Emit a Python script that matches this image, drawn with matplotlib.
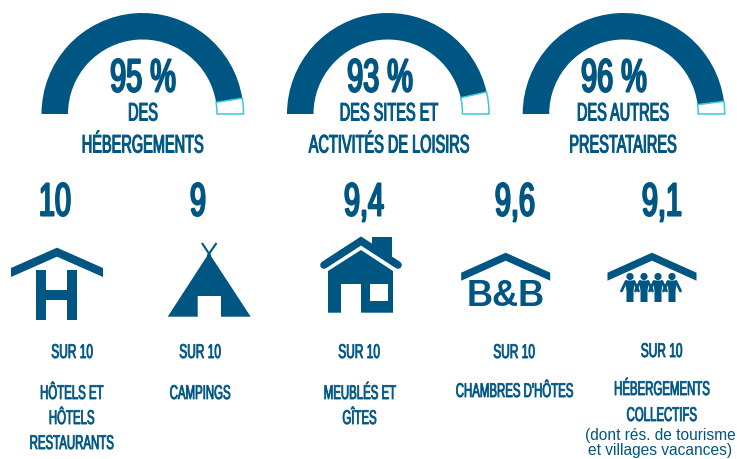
import numpy as np
import matplotlib
matplotlib.use("Agg")
import matplotlib.pyplot as plt
from matplotlib.patches import Wedge, Polygon, Rectangle, Circle
from matplotlib.patheffects import AbstractPathEffect
from matplotlib.transforms import Affine2D

# ---- data ----
gauge_values = [95, 93, 96]
gauge_labels = ["95 %", "93 %", "96 %"]
gauge_line1 = ["DES", "DES SITES ET", "DES AUTRES"]
gauge_line2 = ["HÉBERGEMENTS", "ACTIVITÉS DE LOISIRS", "PRESTATAIRES"]
scores = ["10", "9", "9,4", "9,6", "9,1"]
unit = "SUR 10"
cat_hotels = ["HÔTELS ET", "HÔTELS", "RESTAURANTS"]
cat_camp = ["CAMPINGS"]
cat_meubles = ["MEUBLÉS ET", "GÎTES"]
cat_chambres = ["CHAMBRES D'HÔTES"]
cat_collectifs = ["HÉBERGEMENTS", "COLLECTIFS"]
note = ["(dont rés. de tourisme", "et villages vacances)"]

BLUE = "#005683"
CYAN = "#3CC8DC"
W, H = 737, 459

plt.rcParams["font.family"] = ["Liberation Sans", "DejaVu Sans"]
fig = plt.figure(figsize=(W / 100, H / 100), dpi=100)
ax = fig.add_axes([0, 0, 1, 1])
ax.set_xlim(0, W)
ax.set_ylim(H, 0)
ax.axis("off")


class Tall(AbstractPathEffect):
    """Stretch a text upward from its baseline and thicken it (condensed display face)."""

    def __init__(self, baseline_px, sy, lw):
        super().__init__()
        self.by, self.sy, self.lw = baseline_px, sy, lw

    def draw_path(self, renderer, gc, tpath, affine, rgbFace=None):
        t = affine + Affine2D().translate(0, -self.by).scale(1, self.sy).translate(0, self.by)
        g = renderer.new_gc()
        g.copy_properties(gc)
        g.set_foreground(BLUE)
        g.set_linewidth(self.lw)
        renderer.draw_path(g, tpath, t, rgbFace)
        g.restore()


def label(x, y, s, size, sx, lw):
    ax.text(x, y, s, ha="center", va="baseline", fontsize=size * sx, color=BLUE,
            path_effects=[Tall(H - y, 1 / sx, lw)])


TOP = dict(size=18.2, sx=0.575, lw=0.75)
BOT = dict(size=14.3, sx=0.575, lw=0.6)
BIG = dict(size=33.5, sx=0.62, lw=1.5)

# ---- gauges ----
gauge_cx = [142.5, 388, 623.7]
R, r, base = 101, 74.5, 114
big_x = [143, 380, 614]
line_x = [143, 389, 623]
for cx, v, bl, l1, l2, bx, lx in zip(gauge_cx, gauge_values, gauge_labels, gauge_line1,
                                     gauge_line2, big_x, line_x):
    split = 180 * (100 - v) / 100
    # y axis is inverted, so the upper half runs from 180 to 360 degrees
    ax.add_patch(Wedge((cx, base), R, 180, 360 - split, width=R - r, fc=BLUE, ec="none"))
    ax.add_patch(Wedge((cx, base), R, 360 - split, 360, width=R - r, fc="white", ec=CYAN, lw=1.1))
    label(bx, 91.5, bl, **BIG)
    label(lx, 120.5, l1, **TOP)
    label(lx, 152.5, l2, **TOP)

# ---- scores ----
score_x = [55, 198, 364, 515, 662]
for x, s in zip(score_x, scores):
    label(x, 215.5, s, **BIG)


# ---- icons ----
def poly(pts, fc=BLUE):
    ax.add_patch(Polygon(pts, closed=True, fc=fc, ec="none"))


def roof(cx, apex, half, drop, th):
    poly([(cx, apex), (cx + half, apex + drop), (cx + half, apex + drop + th),
          (cx, apex + th), (cx - half, apex + drop + th), (cx - half, apex + drop)])


# H house
roof(57, 247.7, 46, 20.3, 9)
ax.add_patch(Rectangle((35.7, 270), 10.3, 50, fc=BLUE, ec="none"))
ax.add_patch(Rectangle((66.7, 270), 10.3, 50, fc=BLUE, ec="none"))
ax.add_patch(Rectangle((35.7, 290), 41, 10, fc=BLUE, ec="none"))

# tipi
poly([(209, 253), (250.7, 316.7), (221, 316.7), (221, 296), (197.7, 296), (197.7, 316.7),
      (167.7, 316.7)])
ax.plot([202, 210.5], [243, 256], color=BLUE, lw=1.5, solid_capstyle="butt")
ax.plot([216.5, 207.5], [243, 256], color=BLUE, lw=1.5, solid_capstyle="butt")

# cottage
ax.plot([324, 361, 398], [265, 241, 265], color=BLUE, lw=5.5, solid_capstyle="round",
        solid_joinstyle="miter")
poly([(372, 237), (392, 237), (392, 260), (372, 245)])
poly([(361, 250), (393, 271), (393, 312.7), (328, 312.7), (328, 271)])
ax.add_patch(Rectangle((341, 284), 20, 29, fc="white", ec="none"))
ax.add_patch(Rectangle((370, 284), 18, 17, fc="white", ec="none"))

# B&B
roof(505.7, 252.7, 44.5, 20, 8)
ax.text(505.5, 306.5, "B&B", ha="center", va="baseline", fontsize=26, color=BLUE,
        fontweight="bold")

# people under a roof
roof(652, 252.7, 44.5, 20, 8)
for px in [630, 644, 658, 672]:
    ax.add_patch(Circle((px, 276.5), 3.6, fc=BLUE, ec="none"))
    poly([(px - 5, 280.5), (px + 5, 280.5), (px + 3.5, 291), (px + 3.5, 302), (px - 3.5, 302),
          (px - 3.5, 291)])
    ax.plot([px - 4, px - 8.5], [281.5, 291], color=BLUE, lw=2, solid_capstyle="round")
    ax.plot([px + 4, px + 8.5], [281.5, 291], color=BLUE, lw=2, solid_capstyle="round")

# ---- bottom labels ----
sur_x = [72, 200, 359, 514, 661.5]
sur_y = [358, 358, 358, 358, 357]
for x, y in zip(sur_x, sur_y):
    label(x, y, unit, 14.3, 0.6, 0.6)

ys = [399, 424, 449]
for s, y in zip(cat_hotels, ys):
    label(71.5, y, s, **BOT)
label(200, 399, cat_camp[0], **BOT)
for s, y in zip(cat_meubles, ys):
    label(359.5, y, s, **BOT)
label(514, 397, cat_chambres[0], **BOT)
for s, y in zip(cat_collectifs, [395, 421]):
    label(661.5, y, s, **BOT)
for s, y in zip(note, [440, 455.5]):
    ax.text(660.5, y, s, ha="center", va="baseline", fontsize=11.2, color=BLUE)

fig.savefig("out.png", dpi=100)
